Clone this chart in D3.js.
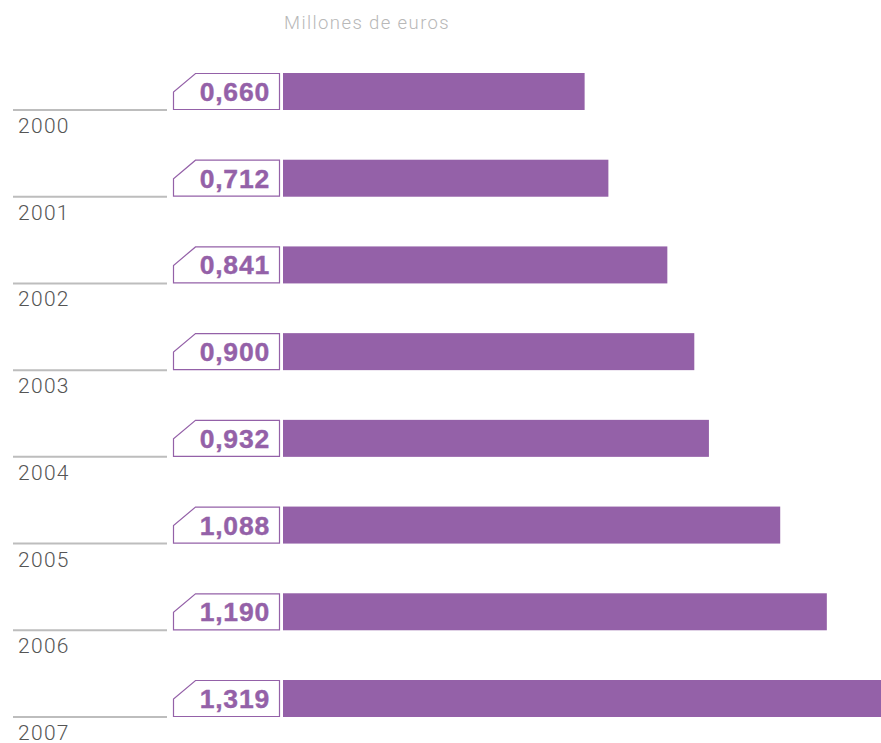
<!DOCTYPE html>
<html><head><meta charset="utf-8">
<script src="https://cdn.jsdelivr.net/npm/d3@7/dist/d3.min.js"></script>
<style>body{margin:0;background:#fff}svg{display:block}</style>
</head><body>
<svg id="c" width="881" height="743"></svg>
<script>
const years = ["2000","2001","2002","2003","2004","2005","2006","2007"];
const values = [0.660,0.712,0.841,0.900,0.932,1.088,1.190,1.319];
const labels = ["0,660","0,712","0,841","0,900","0,932","1,088","1,190","1,319"];
const title = "Millones de euros";

const svg = d3.select("#c");
const purple = "#9461a8";
const x = d3.scaleLinear().domain([0, 1]).range([283, 283 + 457]);
const yb = d3.scalePoint().domain(years).range([73, 680]);
const bh = 37;

svg.append("text").attr("x", 284).attr("y", 29).attr("font-family", "Roboto, sans-serif")
  .attr("font-weight", 300).attr("font-size", 18.5).attr("letter-spacing", 1.4)
  .attr("fill", "#b8b8b8").text(title);

const g = svg.selectAll("g.row").data(years).join("g").attr("class","row")
  .attr("transform", d => `translate(0,${yb(d)})`);

g.append("rect").attr("x", x(0)).attr("y", 0).attr("height", bh)
  .attr("width", (d,i) => Math.min(x(values[i]), 881) - x(0)).attr("fill", purple);

g.append("path").attr("d", `M195.5,0.5 L279.5,0.5 L279.5,${bh-0.5} L173.5,${bh-0.5} L173.5,19 Z`)
  .attr("fill", "#fff").attr("stroke", purple).attr("stroke-width", 1.2);

g.append("text").attr("x", 270).attr("y", 28).attr("text-anchor", "end")
  .attr("font-family", "'Liberation Sans', Arial, sans-serif").attr("font-weight", 700).attr("font-size", 26.5)
  .attr("letter-spacing", 0.8).attr("stroke", purple).attr("stroke-width", 0.4)
  .attr("fill", purple).text((d,i) => labels[i]);

g.append("line").attr("x1", 13).attr("x2", 167).attr("y1", 37).attr("y2", 37)
  .attr("stroke", "#bdbdbd").attr("stroke-width", 2);

g.append("text").attr("x", 18).attr("y", 60)
  .attr("font-family", "Roboto, sans-serif").attr("font-weight", 300).attr("font-size", 21)
  .attr("letter-spacing", 1.3)
  .attr("fill", "#555").text(d => d);
</script>
</body></html>
